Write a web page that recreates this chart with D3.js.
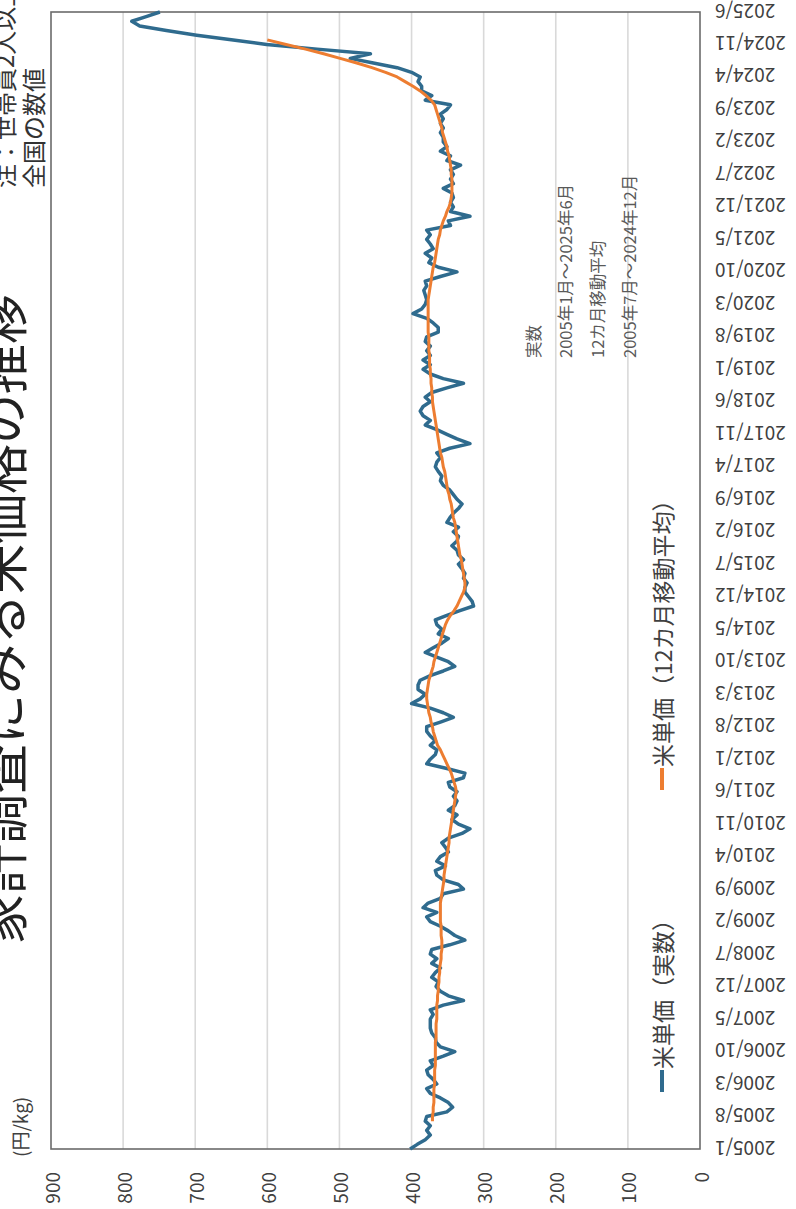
<!DOCTYPE html>
<html><head><meta charset="utf-8">
<script src="https://cdn.jsdelivr.net/npm/d3@7"></script>
<style>body{margin:0;background:#fff;overflow:hidden}</style>
</head><body>
<svg id="c" width="796" height="1209"></svg>
<script>
// ---- data ----
const startYear = 2005, startMonth = 1, monthCount = 246;
const categories = [];
for (let i = 0; i < monthCount; i++) { const m = startMonth - 1 + i; categories.push(`${startYear + Math.floor(m / 12)}/${m % 12 + 1}`); }

const actual = [
402,392,381,374,379,374,381,379,351,343,
349,360,374,379,365,370,377,379,370,374,
356,340,360,366,367,372,374,374,374,370,
374,356,328,349,360,366,363,372,367,360,
372,365,374,372,347,326,340,349,360,374,
379,365,384,377,360,356,328,335,356,365,
367,353,365,360,349,353,358,349,330,319,
335,344,337,349,340,337,342,337,347,349,
328,326,351,379,374,367,365,374,367,374,
379,379,360,342,356,374,400,388,381,391,
391,388,374,356,340,349,365,381,370,358,
349,363,358,365,367,351,333,314,316,321,
326,326,323,328,326,330,335,328,335,337,
344,337,335,342,335,351,347,342,335,330,
337,342,347,356,360,358,363,367,365,360,
365,347,319,337,351,365,381,374,384,388,
384,374,381,372,351,328,356,374,384,374,
384,374,379,374,381,379,363,363,370,379,
398,386,381,379,381,383,379,381,360,337,
363,376,372,381,370,374,379,374,379,346,
349,319,346,342,346,342,344,356,342,346,
342,346,332,351,346,360,351,356,356,360,
356,360,356,360,351,346,381,372,386,386,
391,388,400,420,453,485,457,531,601,650,
698,740,777,788,768,749
];

const maStart = "2005/7";
const movingAvg = [
371,371,370,370,369,
369,369,369,368,368,368,368,367,367,367,
367,367,367,366,366,366,366,365,365,365,365,
364,364,363,363,362,362,361,361,360,359,359,358,
358,358,359,359,359,360,360,360,360,360,
359,358,357,356,355,355,354,
353,352,351,350,349,348,348,347,
346,345,344,343,342,341,340,339,338,
339,341,343,345,
348,351,354,357,360,364,
366,368,370,371,373,374,
376,377,378,379,
379,378,377,376,374,
372,370,369,367,365,
363,361,359,357,355,353,
350,346,341,337,
334,331,328,326,
326,327,328,329,330,331,333,
334,335,336,337,338,339,340,342,
343,344,345,347,348,350,
351,352,353,354,356,357,358,360,
361,362,363,364,365,366,367,368,369,370,
371,371,372,372,373,373,374,374,375,375,
375,376,376,376,376,377,377,377,377,377,377,377,377,
376,375,374,373,372,
371,370,368,367,
366,365,364,363,
361,360,358,356,
353,351,348,346,
345,344,344,
344,344,345,345,346,
347,348,350,351,
353,355,357,358,360,
362,364,366,368,
373,380,388,
398,409,420,
436,455,476,499,
522,547,574,600
];

const tickLabels = ["2005/1","2005/8","2006/3","2006/10","2007/5","2007/12","2008/7","2009/2","2009/9","2010/4","2010/11","2011/6","2012/1","2012/8","2013/3","2013/10","2014/5","2014/12","2015/7","2016/2","2016/9","2017/4","2017/11","2018/6","2019/1","2019/8","2020/3","2020/10","2021/5","2021/12","2022/7","2023/2","2023/9","2024/4","2024/11","2025/6"];
const yTicks = [0,100,200,300,400,500,600,700,800,900];

const seriesNames = ["米単価（実数）", "米単価（12カ月移動平均）"];
const colors = ["#2f6b8e", "#ed7d31"];
const titleText = "家計調査にみる米価格の推移";
const unitText = "(円/kg)";
const noteLines = ["注：世帯員2人以上の世帯", "全国の数値"];
const tableLines = ["実数", "2005年1月～2025年6月", "12カ月移動平均", "2005年7月～2024年12月"];

// ---- drawing (landscape chart rotated -90deg) ----
const W = 1209;
const svg = d3.select("#c");
const g = svg.append("g").attr("transform", `translate(0,${W}) rotate(-90)`);
const font = "'Noto Sans CJK JP','Noto Sans',sans-serif";

const x = d3.scalePoint().domain(categories).range([60, 1197]);
const y = d3.scaleLinear().domain([0, 900]).range([700, 51]);

g.append("g").selectAll("line").data(yTicks.filter(d => d > 0 && d < 900)).join("line")
  .attr("x1", 60).attr("x2", 1197).attr("y1", d => y(d)).attr("y2", d => y(d))
  .attr("stroke", "#d9d9d9").attr("stroke-width", 1.6);

g.append("rect").attr("x", 60).attr("y", 51).attr("width", 1137).attr("height", 649)
  .attr("fill", "none").attr("stroke", "#6b6b6b").attr("stroke-width", 1.6);

g.append("g").selectAll("text").data(yTicks).join("text")
  .attr("x", 37).attr("y", d => y(d)).attr("text-anchor", "end").attr("dominant-baseline", "central")
  .attr("font-family", font).attr("font-size", 19).attr("fill", "#404040").text(d => d);

g.append("g").selectAll("text").data(tickLabels).join("text")
  .attr("transform", d => `translate(${x(d)},715) rotate(-90)`)
  .attr("text-anchor", "end").attr("dominant-baseline", "central")
  .attr("font-family", font).attr("font-size", 19).attr("fill", "#404040").text(d => d);

const actualData = categories.map((c, i) => ({ c, v: actual[i] }));
const s0 = categories.indexOf(maStart);
const maData = movingAvg.map((v, i) => ({ c: categories[s0 + i], v }));
const line = d3.line().x(d => x(d.c)).y(d => y(d.v));
g.append("path").datum(actualData).attr("d", line).attr("fill", "none")
  .attr("stroke", colors[0]).attr("stroke-width", 3.5).attr("stroke-linejoin", "round");
g.append("path").datum(maData).attr("d", line).attr("fill", "none")
  .attr("stroke", colors[1]).attr("stroke-width", 3).attr("stroke-linejoin", "round");

g.append("text").attr("x", 590).attr("y", 22).attr("text-anchor", "middle")
  .attr("font-family", font).attr("font-size", 50).attr("fill", "#222").text(titleText);

g.append("text").attr("x", 52).attr("y", 28).attr("font-family", font).attr("font-size", 19)
  .attr("fill", "#404040").text(unitText);

g.append("g").selectAll("text").data(noteLines).join("text")
  .attr("x", 1021).attr("y", (d, i) => 14 + i * 29)
  .attr("font-family", font).attr("font-size", 24).attr("fill", "#333").text(d => d);

g.append("g").selectAll("text").data(tableLines).join("text")
  .attr("x", 851).attr("y", (d, i) => 533 + i * 32).attr("dominant-baseline", "central")
  .attr("font-family", font).attr("font-size", 16.5).attr("fill", "#595959").text(d => d);

const legendX = [117, 419];
const lg = g.append("g").selectAll("g").data(seriesNames).join("g")
  .attr("transform", (d, i) => `translate(${legendX[i]},662)`);
lg.append("line").attr("x1", 0).attr("x2", 22).attr("y1", 0).attr("y2", 0)
  .attr("stroke", (d, i) => colors[i]).attr("stroke-width", 4);
lg.append("text").attr("x", 23).attr("y", 0).attr("dominant-baseline", "central")
  .attr("font-family", font).attr("font-size", 23).attr("fill", "#404040").text(d => d);
</script>
</body></html>
